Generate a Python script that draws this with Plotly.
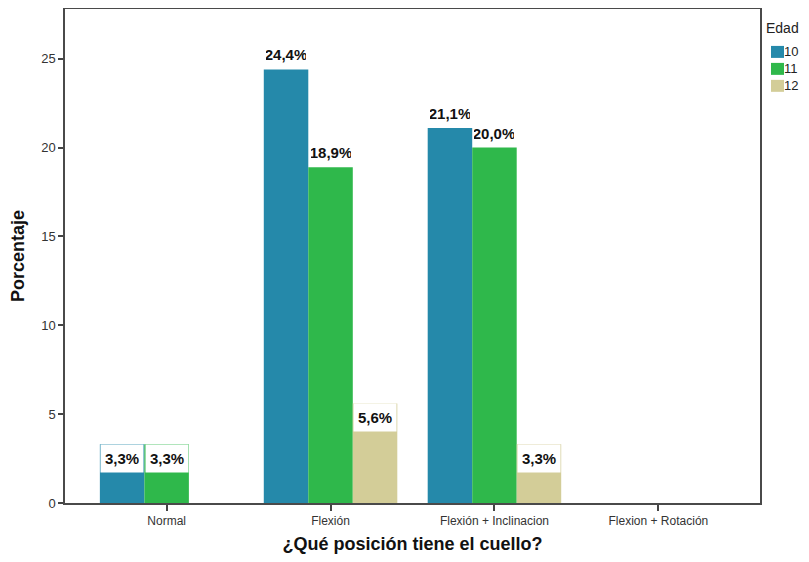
import plotly.graph_objects as go

categories = ["Normal", "Flexión", "Flexión + Inclinacion", "Flexion + Rotación"]
series_names = ["10", "11", "12"]
values_10 = [3.3, 24.4, 21.1, 0.0]
values_11 = [3.3, 18.9, 20.0, 0.0]
values_12 = [0.0, 5.6, 3.3, 0.0]
series_values = [values_10, values_11, values_12]
colors = ["#2589aa", "#2fb84b", "#d3cd98"]
y_ticks = [0, 5, 10, 15, 20, 25]

BARGAP = 0.1855
n_series = len(series_names)
bar_w = (1 - BARGAP) / n_series
xs = list(range(len(categories)))

# page offset (default body margin of the html page)
OFF = 8
W, H = 809 - 2 * OFF, 562 - 2 * OFF

fig = go.Figure()
for name, vals, col in zip(series_names, series_values, colors):
    fig.add_trace(go.Bar(
        x=xs, y=vals, name=name,
        marker=dict(color=col, line=dict(width=0)),
        showlegend=False, hoverinfo="skip",
    ))

annotations = []
for j, vals in enumerate(series_values):
    for i, v in enumerate(vals):
        if v <= 0:
            continue
        inside = v < 10
        annotations.append(dict(
            x=i + (j - (n_series - 1) / 2) * bar_w, y=v, xref="x", yref="y",
            text="<b>" + f"{v:.1f}".replace(".", ",") + "%</b>",
            showarrow=False,
            yanchor="top" if inside else "bottom",
            xanchor="center",
            width=40, height=25, borderpad=1,
            bgcolor="white" if inside else "rgba(255,255,255,0)",
            font=dict(family="Liberation Sans, Arial", size=15, color="#111111"),
        ))

# plot area in page pixels
L, R, T, B = 65, 760, 8, 503
pw, ph = R - L, B - T
def px_x(p):
    return (p - L) / pw
def px_y(p):
    return (B - p) / ph

annotations.append(dict(
    x=px_x(800), y=px_y(27), xref="paper", yref="paper", text="Edad",
    showarrow=False, xanchor="right", yanchor="middle", borderpad=0,
    font=dict(family="Liberation Sans, Arial", size=14, color="#222222"),
))
shapes = []
for k, (name, col) in enumerate(zip(series_names, colors)):
    cy = 51 + k * 17
    shapes.append(dict(
        type="rect", xref="paper", yref="paper",
        x0=px_x(771), x1=px_x(784), y0=px_y(cy - 6), y1=px_y(cy + 6),
        fillcolor=col, line=dict(width=0),
    ))
    annotations.append(dict(
        x=px_x(799), y=px_y(cy), xref="paper", yref="paper", text=name,
        showarrow=False, xanchor="right", yanchor="middle", borderpad=0,
        font=dict(family="Liberation Sans, Arial", size=13, color="#222222"),
    ))

fig.update_layout(
    width=W, height=H,
    margin=dict(l=L - OFF, r=W - (R - OFF), t=T - OFF + 1, b=H - (B - OFF), pad=0,
                autoexpand=False),
    paper_bgcolor="white", plot_bgcolor="white",
    barmode="group", bargap=BARGAP, bargroupgap=0,
    annotations=annotations, shapes=shapes,
    showlegend=False,
    font=dict(family="Liberation Sans, Arial", color="#333333"),
)
fig.update_xaxes(
    range=[-0.62, len(categories) - 1 + 0.62],
    tickvals=xs, ticktext=categories,
    ticks="outside", ticklen=6, tickwidth=1.5, tickcolor="#444444",
    tickfont=dict(size=12, color="#333333"),
    showline=True, linecolor="#4a4a4a", linewidth=1.5, mirror=True,
    showgrid=False, zeroline=False, automargin=False,
    title=dict(text="<b>¿Qué posición tiene el cuello?</b>",
               font=dict(size=18, color="#111111"), standoff=14),
)
fig.update_yaxes(
    range=[0, 27.8],
    tickvals=y_ticks,
    ticks="outside", ticklen=5, tickwidth=1.5, tickcolor="#444444",
    tickfont=dict(size=13, color="#333333"),
    showline=True, linecolor="#4a4a4a", linewidth=1.5, mirror=True,
    showgrid=False, zeroline=False, automargin=False,
    title=dict(text="<b>Porcentaje</b>", font=dict(size=18, color="#111111"), standoff=14),
)

fig.write_html("out.html")
